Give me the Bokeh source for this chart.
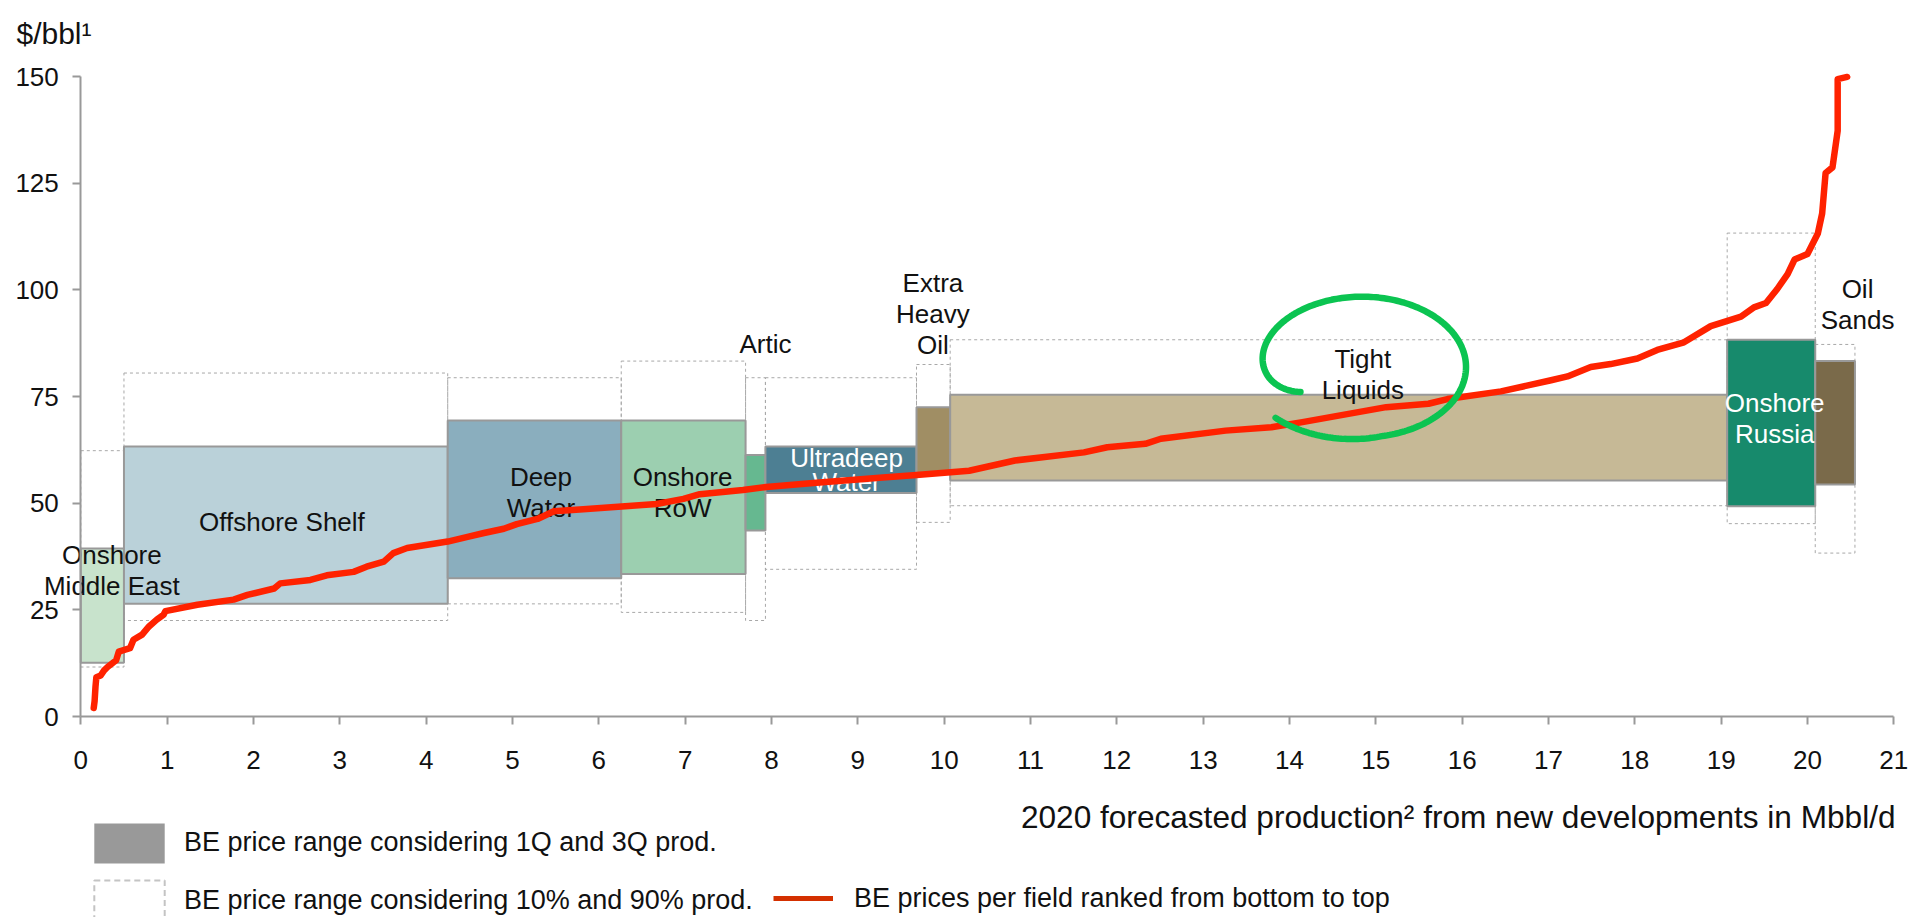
import numpy as np
from bokeh.plotting import figure
from bokeh.models import ColumnDataSource, Range1d, Label, Legend, LegendItem, FixedTicker
from bokeh.core.properties import value
from bokeh.embed import file_html
from bokeh.resources import INLINE

FONT = "Liberation Sans"

# Supply segments: production span (Mbbl/d), quartile and decile break-even prices ($/bbl)
segments = ["Onshore\nMiddle East", "Offshore Shelf", "Deep\nWater", "Onshore\nRoW", "Artic",
            "Ultradeep\nWater", "Extra\nHeavy\nOil", "Tight\nLiquids", "Onshore\nRussia", "Oil\nSands"]
prod_start = [0.00, 0.50, 4.25, 6.26, 7.70, 7.93, 9.68, 10.07, 19.07, 20.09]
prod_end = [0.50, 4.25, 6.26, 7.70, 7.93, 9.68, 10.07, 19.07, 20.09, 20.55]
price_q1 = [12.6, 26.4, 32.4, 33.4, 43.6, 52.4, 57.0, 55.3, 49.3, 54.4]
price_q3 = [39.4, 63.3, 69.4, 69.4, 61.3, 63.3, 72.5, 75.4, 88.3, 83.3]
price_p10 = [11.6, 22.5, 26.4, 24.4, 22.5, 34.5, 45.5, 49.4, 45.2, 38.3]
price_p90 = [62.3, 80.5, 79.4, 83.3, 79.4, 79.4, 82.5, 88.3, 113.3, 87.2]
segment_colors = ["#c8e3cc", "#bad1d9", "#8aaebe", "#9ccfb0", "#66b890",
                  "#4d7f93", "#a08e64", "#c6b996", "#178a6c", "#7a6a4a"]
label_colors = ["#111111", "#111111", "#111111", "#111111", "#111111",
                "#ffffff", "#111111", "#111111", "#ffffff", "#111111"]
# label anchor points (data units)
label_x = [0.36, 2.33, 5.33, 6.97, 7.93, 8.87, 9.87, 14.85, 19.62, 20.58]
label_y = [34.2, 45.5, 52.4, 52.4, 87.3, 57.7, 94.4, 80.1, 69.9, 96.6]

# Break-even price per field, ranked (cumulative production, price)
field_prod = [0.15, 0.16, 0.17, 0.18, 0.23, 0.27, 0.31, 0.41, 0.44, 0.57, 0.61, 0.71, 0.79, 0.88,
              0.96, 0.98, 1.35, 1.77, 1.93, 2.24, 2.31, 2.66, 2.85, 3.16, 3.31, 3.51, 3.62, 3.78,
              4.25, 4.48, 4.67, 4.90, 5.05, 5.29, 5.48, 5.82, 6.67, 6.98, 7.17, 7.67, 7.94, 8.52,
              9.29, 9.68, 10.29, 10.82, 11.62, 11.89, 12.33, 12.51, 13.26, 13.79, 14.15, 15.12,
              15.61, 15.83, 16.45, 17.03, 17.22, 17.49, 17.72, 18.03, 18.26, 18.57, 18.88, 19.23,
              19.38, 19.52, 19.65, 19.77, 19.85, 20.00, 20.12, 20.17, 20.21, 20.29, 20.35, 20.35,
              20.46]
field_price = [2.0, 3.6, 6.9, 9.2, 9.6, 10.8, 11.6, 13.2, 15.2, 16.0, 18.0, 19.2, 21.1, 22.7,
               23.9, 24.7, 26.2, 27.4, 28.5, 30.0, 31.2, 32.0, 33.1, 33.9, 35.1, 36.3, 38.3, 39.5,
               41.0, 42.1, 43.0, 44.0, 45.1, 46.3, 48.1, 48.6, 49.8, 51.0, 52.1, 53.1, 53.8, 54.8,
               56.0, 56.6, 57.6, 60.0, 61.9, 63.1, 63.9, 65.1, 67.0, 67.8, 69.0, 72.5,
               73.3, 74.4, 76.2, 78.8, 79.7, 81.9, 82.6, 83.9, 85.9, 87.7, 91.5, 93.7,
               95.9, 96.9, 100.2, 103.7, 107.1, 108.4, 113.2, 117.9, 127.4, 128.7, 137.3, 149.4,
               149.9]

x_ticks = list(range(0, 22))
y_ticks = [0, 25, 50, 75, 100, 125, 150]

# The plotting frame fills the whole canvas; the axes sit at x=0 / y=0 inside it so that
# labels, titles and legends around the chart area are not clipped.
W, H = 1926, 917
ax_left, ax_right, ax_top, ax_bottom = 80.3, 1893.3, 76.0, 716.0
px_x = (ax_right - ax_left) / 21.0
px_y = (ax_bottom - ax_top) / 150.0
x_rng = Range1d(-ax_left / px_x, 21 + (W - ax_right) / px_x)
y_rng = Range1d(-(H - ax_bottom) / px_y, 150 + ax_top / px_y)

p = figure(width=W, height=H, output_backend="svg", toolbar_location=None,
           x_range=x_rng, y_range=y_rng)
p.min_border = 0
p.outline_line_color = None
p.xgrid.visible = False
p.ygrid.visible = False
p.background_fill_color = "white"
p.border_fill_color = "white"

for ax in (p.xaxis[0], p.yaxis[0]):
    ax.axis_line_color = "#999999"
    ax.axis_line_width = 2
    ax.major_tick_line_color = "#999999"
    ax.major_tick_line_width = 2
    ax.major_tick_out = 8
    ax.major_tick_in = 0
    ax.minor_tick_line_color = None
    ax.major_label_text_font = FONT
    ax.major_label_text_font_size = "26px"
    ax.major_label_text_color = "#111111"
    ax.fixed_location = 0
p.xaxis.ticker = FixedTicker(ticks=x_ticks)
p.yaxis.ticker = FixedTicker(ticks=y_ticks)
p.xaxis.bounds = (0, 21)
p.yaxis.bounds = (0, 150)
p.xaxis.major_label_standoff = 26
p.yaxis.major_label_standoff = 14

src = ColumnDataSource(dict(left=prod_start, right=prod_end, q1=price_q1, q3=price_q3,
                            p10=price_p10, p90=price_p90, color=segment_colors))

# 10%-90% range (dashed outline)
p.quad(left="left", right="right", bottom="p10", top="p90", source=src,
       fill_alpha=0, line_color="#a8a8a8", line_width=1, line_dash="3 3")
# 1Q-3Q range (filled)
p.quad(left="left", right="right", bottom="q1", top="q3", source=src,
       fill_color="color", line_color="#999999", line_width=2)

main_idx = [i for i in range(len(segments)) if i != 5]
lab_src = ColumnDataSource(dict(x=[label_x[i] for i in main_idx], y=[label_y[i] for i in main_idx],
                                t=[segments[i] for i in main_idx], c=[label_colors[i] for i in main_idx]))
p.text(x="x", y="y", text="t", source=lab_src, text_color="c", text_font=value(FONT),
       text_font_size="26px", text_align="center", text_baseline="middle", text_line_height=1.03)
p.text(x=[label_x[5]], y=[label_y[5]], text=[segments[5]], text_color=label_colors[5],
       text_font=value(FONT), text_font_size="26px", text_align="center",
       text_baseline="middle", text_line_height=0.8)

# ranked break-even curve
p.line(field_prod, field_price, line_color="#ff2200", line_width=6.5, line_join="round", line_cap="round")

# hand-drawn highlight around Tight Liquids
ring_cx, ring_cy, ring_ax, ring_ay = 14.84, 81.9, 1.205, 16.5
sweep = np.linspace(0, 350, 240)
theta = np.radians(211 - sweep)
rad = 1.0 - 0.31 * np.exp(-sweep / 18) + 0.1 * np.clip((sweep - 290) / 60, 0, 1)
p.line(ring_cx + ring_ax * rad * np.cos(theta), ring_cy + ring_ay * rad * np.sin(theta),
       line_color="#0bc451", line_width=6.5, line_cap="round")

# axis titles
p.add_layout(Label(x=-0.745, y=160.1, text="$/bbl\u00b9", text_font=FONT, text_font_size="30px",
                   text_color="#111111", text_baseline="alphabetic", text_align="left"))
p.add_layout(Label(x=21.02, y=-23.6, text="2020 forecasted production\u00b2 from new developments in Mbbl/d",
                   text_font=FONT, text_font_size="31.6px", text_color="#111111",
                   text_baseline="middle", text_align="right"))

# legend swatches (hidden renderers, shown only in the legends)
sw_q = p.quad(left="left", right="right", bottom="q1", top="q3", source=src,
              fill_color="#999999", line_color=None, visible=False)
sw_p = p.quad(left="left", right="right", bottom="p10", top="p90", source=src,
              fill_alpha=0, line_color="#c4c4c4", line_width=2, line_dash="6 4", visible=False)
sw_l = p.line(field_prod, field_price, line_color="#d43000", line_width=5, visible=False)


def make_legend(label, rend, loc, gw, gh, standoff):
    lg = Legend(items=[LegendItem(label=label, renderers=[rend])], location=loc,
                glyph_width=gw, glyph_height=gh, label_height=40,
                label_text_font=FONT, label_text_font_size="27px", label_text_color="#111111",
                label_standoff=standoff, padding=0, margin=0, spacing=0,
                border_line_color=None, background_fill_alpha=0)
    p.add_layout(lg, "center")


# area swatches are drawn inset by 10% of the glyph box, so the boxes are enlarged to compensate
make_legend("BE price range considering 1Q and 3Q prod.", sw_q, (85, 49.5), 88, 50, 11)
make_legend("BE price range considering 10% and 90% prod.", sw_p, (85, -8), 88, 50, 11)
make_legend("BE prices per field ranked from bottom to top", sw_l, (773, -1), 60, 40, 21)

open("out.html", "w").write(file_html(p, INLINE))
